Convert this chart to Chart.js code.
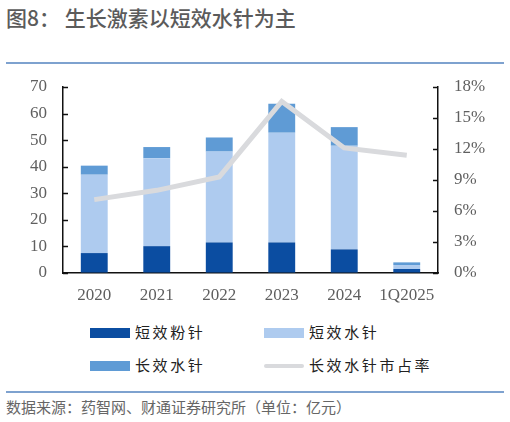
<!DOCTYPE html>
<html>
<head>
<meta charset="utf-8">
<script src="https://cdn.jsdelivr.net/npm/chart.js@4"></script>
<style>
  html, body { margin: 0; padding: 0; background: #fff; }
  body { width: 510px; height: 422px; position: relative; overflow: hidden; font-family: "Noto Sans CJK SC", sans-serif; }
  #title { position: absolute; left: 6px; top: 2px; font-size: 21px; font-weight: 500; color: #5b5b5b; white-space: nowrap; }
  .rule { position: absolute; left: 6px; width: 498px; height: 2px; background: #7ea2cf; }
  #source { position: absolute; left: 6px; top: 396px; font-size: 15px; color: #666; white-space: nowrap; }
  #wrap { position: absolute; left: 0; top: 0; width: 510px; height: 320px; }
  .leg { position: absolute; height: 20px; font-size: 15px; letter-spacing: 2.6px; color: #222; white-space: nowrap; }
  .leg i { position: absolute; left: 0; width: 40px; }
  .leg span { position: absolute; left: 45px; top: -2px; }
</style>
</head>
<body>
<div id="title">图8：&nbsp;生长激素以短效水针为主</div>
<div class="rule" style="top:62px"></div>
<div id="wrap"><canvas id="myChart"></canvas></div>
<div id="legend"></div>
<div class="rule" style="top:391px"></div>
<div id="source">数据来源：药智网、财通证券研究所（单位：亿元）</div>
<script>
var categories = ['2020', '2021', '2022', '2023', '2024', '1Q2025'];
var shortPowder = [7.5, 10.1, 11.5, 11.5, 8.9, 1.5];
var shortWater = [29.5, 33.1, 34.2, 41.3, 39.0, 1.5];
var longWater = [3.4, 4.2, 5.3, 10.9, 7.0, 1.0];
var longShare = [7.1, 8.0, 9.3, 16.6, 12.1, 11.4];
var leftTicks = [0, 10, 20, 30, 40, 50, 60, 70];
var rightTicks = [0, 3, 6, 9, 12, 15, 18];

var tickFont = { family: '"Liberation Serif", "Times New Roman", serif', size: 17 };
var tickColor = '#5f5f5f';

// inward tick marks on both value axes
var innerTicks = {
    id: 'innerTicks',
    afterDraw: function(chart) {
        var ctx = chart.ctx;
        ctx.save();
        ctx.strokeStyle = '#111';
        ctx.lineWidth = 1.5;
        ['y', 'y1'].forEach(function(id) {
            var s = chart.scales[id];
            var x0 = id === 'y' ? s.right : s.left;
            var dir = id === 'y' ? 1 : -1;
            s.ticks.forEach(function(t, i) {
                var py = Math.round(s.getPixelForTick(i)) + 0.5;
                ctx.beginPath();
                ctx.moveTo(x0, py);
                ctx.lineTo(x0 + dir * 5, py);
                ctx.stroke();
            });
        });
        ctx.restore();
    }
};

var ctx = document.getElementById('myChart').getContext('2d');
var myChart = new Chart(ctx, {
    data: {
        labels: categories,
        datasets: [
            { type: 'line', label: '长效水针市占率', data: longShare, yAxisID: 'y1', order: 0,
              borderColor: '#d9dadd', backgroundColor: '#d9dadd', borderWidth: 5, pointRadius: 0, tension: 0 },
            { type: 'bar', label: '短效粉针', data: shortPowder, yAxisID: 'y', order: 1, stack: 's',
              backgroundColor: '#0b4da1' },
            { type: 'bar', label: '短效水针', data: shortWater, yAxisID: 'y', order: 1, stack: 's',
              backgroundColor: '#aecbef' },
            { type: 'bar', label: '长效水针', data: longWater, yAxisID: 'y', order: 1, stack: 's',
              backgroundColor: '#5f9bd5' }
        ]
    },
    options: {
        responsive: true,
        maintainAspectRatio: false,
        animation: false,
        layout: { padding: { top: 87, left: 0, right: 0, bottom: 0 } },
        datasets: { bar: { categoryPercentage: 1, barPercentage: 0.43 } },
        plugins: { legend: { display: false }, tooltip: { enabled: false } },
        scales: {
            x: {
                stacked: true,
                grid: { display: true, drawOnChartArea: false, drawTicks: false },
                border: { display: true, color: '#111', width: 1.5 },
                ticks: { font: tickFont, color: tickColor, padding: 12, maxRotation: 0 },
                afterFit: function(s) { s.height = 47; }
            },
            y: {
                position: 'left',
                stacked: true,
                min: 0, max: 70,
                afterBuildTicks: function(s) { s.ticks = leftTicks.map(function(v) { return { value: v }; }); },
                grid: { display: true, drawOnChartArea: false, drawTicks: false },
                border: { display: true, color: '#111', width: 1.5 },
                ticks: { font: tickFont, color: tickColor, padding: 16 },
                afterFit: function(s) { s.width = 63; }
            },
            y1: {
                position: 'right',
                min: 0, max: 18,
                afterBuildTicks: function(s) { s.ticks = rightTicks.map(function(v) { return { value: v }; }); },
                grid: { display: true, drawOnChartArea: false, drawTicks: false },
                border: { display: true, color: '#111', width: 1.5 },
                ticks: { font: tickFont, color: tickColor, padding: 16, callback: function(v) { return v + '%'; } },
                afterFit: function(s) { s.width = 72; }
            }
        }
    },
    plugins: [innerTicks]
});

// HTML legend in two columns, built from the chart's datasets
var legendOrder = ['短效粉针', '短效水针', '长效水针', '长效水针市占率'];
var legendCols = [90, 264];
var legendRows = [323, 356];
var legendEl = document.getElementById('legend');
legendOrder.forEach(function(name, i) {
    var ds = myChart.data.datasets.find(function(d) { return d.label === name; });
    var item = document.createElement('div');
    item.className = 'leg';
    item.style.left = legendCols[i % 2] + 'px';
    item.style.top = legendRows[Math.floor(i / 2)] + 'px';
    var sw = document.createElement('i');
    if (ds.type === 'line') {
        sw.style.top = '8px'; sw.style.height = '4px'; sw.style.borderRadius = '2px';
        sw.style.background = ds.borderColor;
    } else {
        sw.style.top = '5px'; sw.style.height = '10px';
        sw.style.background = ds.backgroundColor;
    }
    var tx = document.createElement('span');
    tx.textContent = name;
    item.appendChild(sw);
    item.appendChild(tx);
    legendEl.appendChild(item);
});
</script>
</body>
</html>
